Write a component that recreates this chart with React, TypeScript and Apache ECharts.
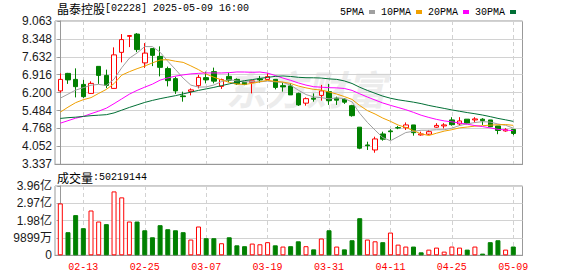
import React, { useEffect, useRef } from 'react';
import * as echarts from 'echarts';

const dates = ['02-10','02-11','02-12','02-13','02-14','02-17','02-18','02-19','02-20','02-21','02-24','02-25','02-26','02-27','02-28','03-03','03-04','03-05','03-06','03-07','03-10','03-11','03-12','03-13','03-14','03-17','03-18','03-19','03-20','03-21','03-24','03-25','03-26','03-27','03-28','03-31','04-01','04-02','04-03','04-07','04-08','04-09','04-10','04-11','04-14','04-15','04-16','04-17','04-22','04-23','04-24','04-25','04-28','04-29','04-30','05-02','05-06','05-07','05-08','05-09'];

const opens = [6.27, 6.97, 6.73, 6.53, 6.17, 7.25, 6.89, 6.37, 7.81, 8.45, 8.54, 7.39, 7.96, 7.65, 7.16, 6.76, 6.07, 6.25, 6.48, 6.80, 7.04, 6.45, 6.85, 6.73, 6.61, 6.61, 6.75, 6.73, 6.73, 6.48, 6.47, 6.17, 5.78, 5.98, 6.09, 6.24, 5.98, 5.94, 5.68, 4.82, 4.11, 3.91, 4.55, 4.67, 4.80, 4.80, 4.91, 4.51, 4.54, 4.82, 4.87, 5.11, 4.95, 5.14, 5.11, 5.14, 5.11, 4.87, 4.67, 4.73];
const closes = [6.73, 6.71, 6.44, 6.04, 6.57, 6.89, 6.49, 7.71, 8.32, 8.48, 7.92, 7.78, 7.69, 7.21, 6.68, 6.27, 6.04, 6.31, 6.81, 6.71, 6.66, 6.72, 6.70, 6.55, 6.53, 6.67, 6.71, 6.84, 6.41, 6.43, 6.11, 5.71, 5.96, 5.94, 6.27, 5.88, 5.90, 5.82, 5.28, 3.98, 4.08, 4.35, 4.34, 4.64, 4.79, 4.91, 4.60, 4.55, 4.64, 4.89, 4.91, 4.92, 5.07, 4.98, 5.15, 5.08, 4.84, 4.69, 4.72, 4.57];
const lows = [6.20, 6.55, 6.01, 5.99, 6.15, 6.55, 6.38, 6.36, 7.41, 8.02, 7.82, 7.19, 7.26, 6.85, 6.45, 6.15, 5.84, 6.09, 6.37, 6.57, 6.57, 6.35, 6.62, 6.51, 6.50, 6.17, 6.60, 6.71, 6.33, 6.24, 6.11, 5.67, 5.68, 5.84, 5.88, 5.71, 5.71, 5.75, 5.24, 3.94, 3.91, 3.80, 4.28, 4.31, 4.74, 4.71, 4.48, 4.48, 4.51, 4.80, 4.77, 4.88, 4.88, 4.94, 5.01, 4.91, 4.82, 4.54, 4.64, 4.50];
const highs = [6.97, 6.99, 7.17, 6.71, 6.65, 7.25, 7.12, 8.01, 8.54, 8.50, 8.58, 8.18, 7.96, 8.05, 7.24, 6.84, 6.24, 6.37, 6.91, 7.04, 7.20, 6.76, 7.00, 6.77, 6.62, 6.67, 6.87, 6.97, 6.73, 6.61, 6.57, 6.20, 6.01, 6.17, 6.51, 6.55, 6.04, 5.98, 5.71, 4.82, 4.24, 4.44, 4.64, 4.74, 4.87, 5.01, 4.91, 4.64, 4.71, 4.98, 4.98, 5.22, 5.22, 5.14, 5.22, 5.18, 5.11, 4.87, 4.78, 4.73];

const volumes = [296.5e6, 132e6, 229.6e6, 155e6, 256e6, 193e6, 178e6, 365e6, 331e6, 193e6, 193e6, 143e6, 103e6, 172e6, 149e6, 143e6, 132e6, 90e6, 164.5e6, 97.6e6, 97.6e6, 69e6, 103e6, 57e6, 52e6, 67e6, 63e6, 75e6, 57e6, 50e6, 52e6, 80e6, 52e6, 34e6, 96e6, 143e6, 50e6, 34e6, 86e6, 212e6, 90e6, 80e6, 75e6, 130e6, 61e6, 50e6, 50e6, 17e6, 32.5e6, 44e6, 21e6, 50e6, 44e6, 32.5e6, 50e6, 9.6e6, 75e6, 86e6, 32.5e6, 50219144];

const ma5 = [5.98, 6.14, 6.30, 6.40, 6.498, 6.530, 6.486, 6.740, 7.196, 7.578, 7.784, 8.042, 8.038, 7.816, 7.456, 7.126, 6.778, 6.502, 6.422, 6.428, 6.506, 6.642, 6.720, 6.668, 6.632, 6.634, 6.632, 6.660, 6.632, 6.612, 6.500, 6.300, 6.124, 6.030, 5.998, 5.952, 5.990, 5.962, 5.830, 5.372, 5.012, 4.702, 4.406, 4.278, 4.440, 4.606, 4.656, 4.698, 4.698, 4.718, 4.718, 4.782, 4.886, 4.954, 5.006, 5.040, 5.024, 4.948, 4.896, 4.780];
const ma10 = [5.42, 5.62, 5.80, 5.92, 6.00, 6.17, 6.33, 6.56, 6.90, 7.038, 7.157, 7.264, 7.389, 7.506, 7.517, 7.455, 7.410, 7.270, 7.119, 6.942, 6.816, 6.710, 6.611, 6.545, 6.530, 6.570, 6.637, 6.690, 6.650, 6.622, 6.567, 6.466, 6.392, 6.331, 6.305, 6.226, 6.145, 6.043, 5.930, 5.685, 5.482, 5.346, 5.184, 5.054, 4.906, 4.809, 4.679, 4.552, 4.488, 4.579, 4.662, 4.719, 4.792, 4.826, 4.862, 4.879, 4.903, 4.917, 4.925, 4.893];
const ma20 = [4.98, 5.08, 5.18, 5.25, 5.36, 5.46, 5.58, 5.76, 5.95, 6.14, 6.29, 6.42, 6.54, 6.70, 6.79, 6.86, 6.91, 6.95, 6.97, 6.990, 6.987, 6.987, 7.000, 7.026, 7.024, 7.013, 7.024, 6.980, 6.885, 6.782, 6.692, 6.588, 6.502, 6.438, 6.418, 6.398, 6.391, 6.367, 6.290, 6.154, 6.025, 5.906, 5.788, 5.693, 5.606, 5.518, 5.412, 5.298, 5.209, 5.132, 5.072, 5.033, 4.988, 4.940, 4.884, 4.844, 4.791, 4.735, 4.707, 4.680];
const ma30 = [5.17, 5.20, 5.22, 5.25, 5.28, 5.30, 5.32, 5.39, 5.50, 5.61, 5.71, 5.81, 5.89, 5.96, 6.02, 6.08, 6.15, 6.22, 6.29, 6.35, 6.41, 6.48, 6.55, 6.62, 6.68, 6.72, 6.77, 6.81, 6.85, 6.867, 6.847, 6.813, 6.797, 6.794, 6.784, 6.750, 6.731, 6.668, 6.566, 6.416, 6.288, 6.174, 6.062, 5.977, 5.914, 5.868, 5.820, 5.762, 5.689, 5.629, 5.570, 5.510, 5.456, 5.404, 5.358, 5.305, 5.242, 5.171, 5.114, 5.052];

const priceTicks = ['3.337', '4.052', '4.768', '5.484', '6.200', '6.916', '7.632', '8.348', '9.063'];
const volumeTickValues = [0, 98990000, 197980000, 296970000, 395960000];
const volumeTicks = ['0', '9899万', '1.98亿', '2.97亿', '3.96亿'];
const labelDates = ['02-13', '02-25', '03-07', '03-19', '03-31', '04-11', '04-25', '05-09'];

const RED = '#ff0000';
const GREEN = '#008000';
const FRAME = '#999999';
const GRIDLINE = '#d2d2d2';

function buildOption() {
  const priceVals = priceTicks.map(Number);
  const labelIdx = labelDates.map((d) => dates.indexOf(d));
  const xMin = -0.69;
  const xMax = 60.2;

  const candleData = dates.map((_, i) => [i, opens[i], closes[i], lows[i], highs[i]]);
  const volData = dates.map((_, i) => {
    const prev = i === 0 ? opens[0] : closes[i - 1];
    const up = closes[i] >= prev;
    return {
      value: [i, volumes[i]],
      itemStyle: up
        ? { color: '#ffffff', borderColor: RED, borderWidth: 1 }
        : { color: GREEN, borderColor: GREEN, borderWidth: 1 },
    };
  });
  const line = (name: string, arr: number[], color: string) => ({
    name,
    type: 'line',
    xAxisIndex: 0,
    yAxisIndex: 0,
    data: arr.map((v, i) => [i, v]),
    showSymbol: false,
    symbol: 'none',
    color,
    lineStyle: { width: 1, color },
    z: 4,
    silent: true,
  });

  const xBase = (gridIndex: number, showLabel: boolean) => ({
    type: 'value',
    gridIndex,
    min: xMin,
    max: xMax,
    axisLine: { show: true, lineStyle: { color: FRAME } },
    axisTick: { show: false, customValues: labelIdx },
    axisLabel: {
      show: showLabel,
      customValues: labelIdx,
      formatter: (v: number) => dates[Math.round(v)] ?? '',
      color: RED,
      fontFamily: 'Liberation Mono',
      fontSize: 10,
      margin: 7,
    },
    splitLine: { show: true, lineStyle: { color: GRIDLINE, type: [4, 3], width: 1 } },
  });

  return {
    animation: false,
    backgroundColor: '#ffffff',
    legend: {
      data: ['5PMA', '10PMA', '20PMA', '30PMA'],
      left: 335,
      top: 2,
      align: 'right',
      icon: 'rect',
      itemWidth: 6,
      itemHeight: 4,
      itemGap: 6,
      selectedMode: false,
      textStyle: { fontFamily: 'Liberation Mono', fontSize: 10, color: '#000', padding: [0, 0, 0, 0] },
    },
    graphic: [
      {
        type: 'text',
        x: 226,
        y: 68,
        z: -10,
        silent: true,
        style: {
          text: '东方财富',
          fontFamily: 'Noto Sans CJK SC',
          fontSize: 40,
          fontWeight: 'bold',
          fontStyle: 'italic',
          fill: '#ececec',
        },
      },
      {
        type: 'text',
        x: 57,
        y: 8,
        style: {
          text: '{a|晶泰控股}{b|[02228] 2025-05-09 16:00}',
          verticalAlign: 'middle',
          rich: {
            a: { fontFamily: 'Noto Sans CJK SC', fontSize: 12, fill: '#000' },
            b: { fontFamily: 'Liberation Mono', fontSize: 10, fill: '#000' },
          },
        },
      },
      {
        type: 'text',
        x: 57,
        y: 177,
        style: {
          text: '{a|成交量}{b|:' + volumes[volumes.length - 1] + '}',
          verticalAlign: 'middle',
          rich: {
            a: { fontFamily: 'Noto Sans CJK SC', fontSize: 12, fill: '#000' },
            b: { fontFamily: 'Liberation Mono', fontSize: 10, fill: '#000' },
          },
        },
      },
    ],
    grid: [
      { left: 55, top: 21, width: 467.5, height: 143.3, show: true, borderColor: FRAME, borderWidth: 1 },
      { left: 55, top: 186, width: 467.5, height: 69.3, show: true, borderColor: FRAME, borderWidth: 1 },
    ],
    xAxis: [xBase(0, false), xBase(1, true)],
    yAxis: [
      {
        type: 'value',
        gridIndex: 0,
        min: priceVals[0],
        max: priceVals[priceVals.length - 1],
        axisLine: { show: true, lineStyle: { color: FRAME } },
        axisTick: { show: true, length: 3, customValues: priceVals, lineStyle: { color: FRAME } },
        axisLabel: {
          customValues: priceVals,
          formatter: (v: number) => {
            const k = priceVals.findIndex((p) => Math.abs(p - v) < 1e-6);
            return k >= 0 ? priceTicks[k] : '';
          },
          color: '#1a1a1a',
          fontFamily: 'Liberation Sans',
          fontSize: 12,
          margin: 3,
        },
        splitLine: { show: true, lineStyle: { color: GRIDLINE, width: 1 } },
      },
      {
        type: 'value',
        gridIndex: 1,
        min: volumeTickValues[0],
        max: volumeTickValues[volumeTickValues.length - 1],
        axisLine: { show: true, lineStyle: { color: FRAME } },
        axisTick: { show: true, length: 3, customValues: volumeTickValues, lineStyle: { color: FRAME } },
        axisLabel: {
          customValues: volumeTickValues,
          formatter: (v: number) => {
            const k = volumeTickValues.findIndex((p) => Math.abs(p - v) < 1);
            return k >= 0 ? volumeTicks[k] : '';
          },
          color: '#1a1a1a',
          fontFamily: 'Liberation Sans, Noto Sans CJK SC',
          fontSize: 12,
          margin: 3,
        },
        splitLine: { show: true, lineStyle: { color: GRIDLINE, width: 1 } },
      },
    ],
    series: [
      {
        name: 'K',
        type: 'candlestick',
        xAxisIndex: 0,
        yAxisIndex: 0,
        data: candleData,
        encode: { x: 0, y: [1, 2, 3, 4] },
        barWidth: 5,
        z: 3,
        silent: true,
        itemStyle: {
          color: '#ffffff',
          color0: GREEN,
          borderColor: RED,
          borderColor0: GREEN,
          borderWidth: 1,
        },
      },
      line('5PMA', ma5, '#a0a0a0'),
      line('10PMA', ma10, '#f0a000'),
      line('20PMA', ma20, '#ff00ff'),
      line('30PMA', ma30, '#006f35'),
      {
        name: 'VOL',
        type: 'bar',
        xAxisIndex: 1,
        yAxisIndex: 1,
        data: volData,
        barWidth: 5,
        silent: true,
        z: 3,
      },
    ],
  };
}

export default function App() {
  const ref = useRef<HTMLDivElement>(null);
  useEffect(() => {
    const chart = echarts.init(ref.current as HTMLDivElement, null, { renderer: 'svg' });
    chart.setOption(buildOption() as any);
    return () => chart.dispose();
  }, []);
  return (
    <div
      ref={ref}
      style={{ position: 'fixed', left: 0, top: 0, width: 578, height: 276, background: '#fff' }}
    />
  );
}
